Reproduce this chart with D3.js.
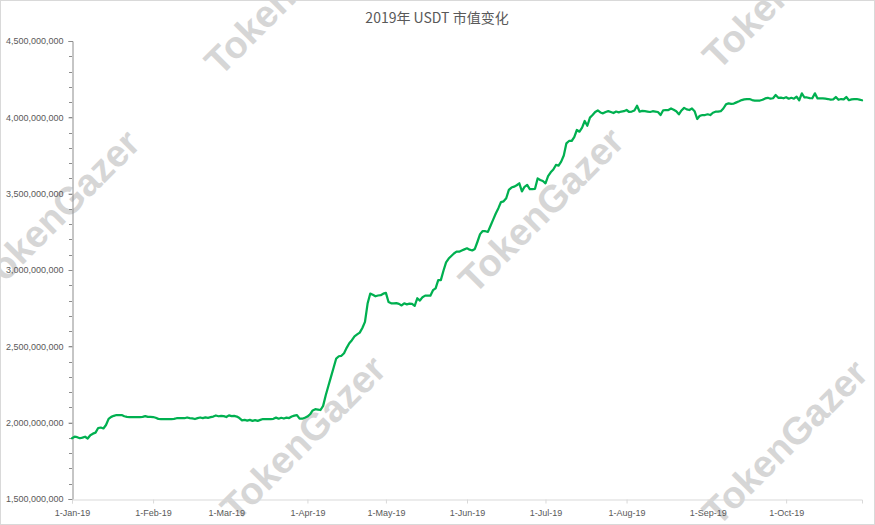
<!DOCTYPE html>
<html>
<head>
<meta charset="utf-8">
<script src="https://cdn.jsdelivr.net/npm/d3@7"></script>
<style>
  html, body { margin: 0; padding: 0; background: #fff; }
  svg { display: block; }
</style>
</head>
<body>
<svg id="chart" width="875" height="525"></svg>
<script>
// ---- data ----
const titleText = "2019年 USDT 市值变化";
const startDay = "2019-01-01";
const endDay = "2019-10-30";
// daily USDT market cap, millions of USD, starting 1-Jan-2019
const capMillions = [
  1898,1908,1905,1898,1902,1908,1896,1918,1928,1935,
  1965,1968,1962,1985,2025,2038,2045,2050,2050,2050,
  2042,2038,2037,2037,2037,2037,2037,2038,2043,2038,
  2038,2037,2032,2025,2024,2024,2024,2024,2024,2025,
  2029,2029,2029,2029,2034,2030,2028,2024,2030,2034,
  2030,2035,2032,2036,2040,2047,2042,2044,2043,2037,
  2048,2043,2044,2040,2030,2015,2018,2013,2018,2012,
  2017,2012,2018,2024,2024,2024,2024,2025,2033,2026,
  2032,2027,2033,2030,2040,2046,2050,2026,2026,2032,
  2040,2055,2080,2088,2086,2083,2110,2180,2240,2300,
  2360,2420,2435,2438,2455,2490,2520,2540,2565,2578,
  2590,2620,2660,2780,2845,2838,2828,2833,2835,2845,
  2850,2790,2782,2782,2783,2778,2768,2782,2775,2780,
  2778,2765,2815,2800,2822,2832,2832,2832,2868,2880,
  2934,2934,2995,3050,3075,3092,3108,3120,3120,3128,
  3135,3142,3133,3128,3138,3185,3235,3255,3254,3250,
  3290,3330,3370,3405,3445,3450,3470,3525,3540,3546,
  3555,3568,3515,3545,3557,3530,3530,3532,3600,3590,
  3583,3568,3615,3640,3658,3688,3684,3710,3750,3830,
  3845,3845,3870,3917,3906,3932,3976,3945,3998,4015,
  4035,4045,4032,4026,4035,4041,4035,4028,4038,4033,
  4038,4040,4048,4035,4038,4045,4076,4037,4042,4040,
  4038,4035,4040,4038,4035,4015,4046,4048,4048,4058,
  4050,4040,4020,4045,4062,4052,4048,4058,4040,3989,
  4010,4015,4015,4020,4015,4030,4037,4037,4040,4058,
  4085,4092,4088,4090,4098,4105,4113,4118,4120,4120,
  4113,4110,4110,4110,4115,4124,4128,4122,4125,4146,
  4128,4129,4125,4132,4122,4128,4122,4135,4112,4157,
  4130,4130,4126,4125,4157,4124,4124,4124,4122,4120,
  4116,4118,4133,4115,4120,4118,4133,4112,4118,4120,
  4120,4116,4112
];
const yTickValues = [1.5e9, 2.0e9, 2.5e9, 3.0e9, 3.5e9, 4.0e9, 4.5e9];
const xTickMonths = ["2019-01-01","2019-02-01","2019-03-01","2019-04-01","2019-05-01",
                     "2019-06-01","2019-07-01","2019-08-01","2019-09-01","2019-10-01"];
const watermarkText = "TokenGazer";
const watermarkCenters = [[287,-8],[785,-14],[57,212],[541,210],[303,438],[785,442]];

// ---- drawing ----
const W = 875, H = 525;
const svg = d3.select("#chart");
const parse = d3.timeParse("%Y-%m-%d");
const t0 = parse(startDay);
const series = capMillions.map((v, i) => ({ date: d3.timeDay.offset(t0, i), value: v * 1e6 }));

const x = d3.scaleTime().domain([t0, parse(endDay)]).range([72, 862]);
const y = d3.scaleLinear().domain([1.5e9, 4.5e9]).range([499, 41]);

// border
svg.append("rect").attr("x", 0.5).attr("y", 0.5).attr("width", W - 1).attr("height", H - 1)
  .attr("fill", "#fff").attr("stroke", "#d9d9d9");

// watermarks
const wm = svg.append("g");
watermarkCenters.forEach(([cx, cy]) => {
  wm.append("text")
    .attr("transform", `translate(${cx},${cy}) rotate(-45)`)
    .attr("text-anchor", "middle")
    .attr("dy", "0.35em")
    .attr("font-family", "Liberation Sans, Arial, sans-serif")
    .attr("font-weight", "bold")
    .attr("font-size", 38)
    .attr("fill", "#d6d6d6")
    .text(watermarkText);
});

// title
svg.append("text")
  .attr("x", 437).attr("y", 23)
  .attr("text-anchor", "middle")
  .attr("font-family", "Noto Sans CJK SC, sans-serif")
  .attr("font-size", 14)
  .attr("fill", "#595959")
  .text(titleText);

// y axis minor ticks
const minor = d3.range(1.5e9, 4.5e9 + 1, 1e8);
svg.append("g").selectAll("line").data(minor).join("line")
  .attr("x1", 69).attr("x2", 72)
  .attr("y1", d => Math.round(y(d)) + 0.5).attr("y2", d => Math.round(y(d)) + 0.5)
  .attr("stroke", "#8c8c8c").attr("stroke-width", 1);

// y axis
const yAxis = svg.append("g").attr("transform", "translate(72.5,0)")
  .call(d3.axisLeft(y).tickValues(yTickValues).tickFormat(d3.format(",")).tickSize(4).tickPadding(5));
yAxis.select(".domain").attr("stroke", "#8c8c8c");
yAxis.selectAll(".tick line").attr("stroke", "#8c8c8c");
yAxis.selectAll("text").attr("font-family", "Liberation Sans, Arial, sans-serif")
  .attr("font-size", 9).attr("fill", "#595959");

// x axis
const xAxis = svg.append("g").attr("transform", "translate(0,499.5)")
  .call(d3.axisBottom(x).tickValues(xTickMonths.map(parse))
    .tickFormat(d3.timeFormat("%-d-%b-%y")).tickSizeOuter(0).tickSize(4).tickPadding(6));
xAxis.select(".domain").attr("stroke", "#d9d9d9");
xAxis.selectAll(".tick line").attr("stroke", "#d9d9d9");
xAxis.selectAll("text").attr("font-family", "Liberation Sans, Arial, sans-serif")
  .attr("font-size", 9).attr("fill", "#595959");

// line
const line = d3.line().x(d => x(d.date)).y(d => y(d.value));
svg.append("path").datum(series)
  .attr("d", line)
  .attr("fill", "none")
  .attr("stroke", "#00b050")
  .attr("stroke-width", 2.25)
  .attr("stroke-linejoin", "round")
  .attr("stroke-linecap", "round");
</script>
</body>
</html>
